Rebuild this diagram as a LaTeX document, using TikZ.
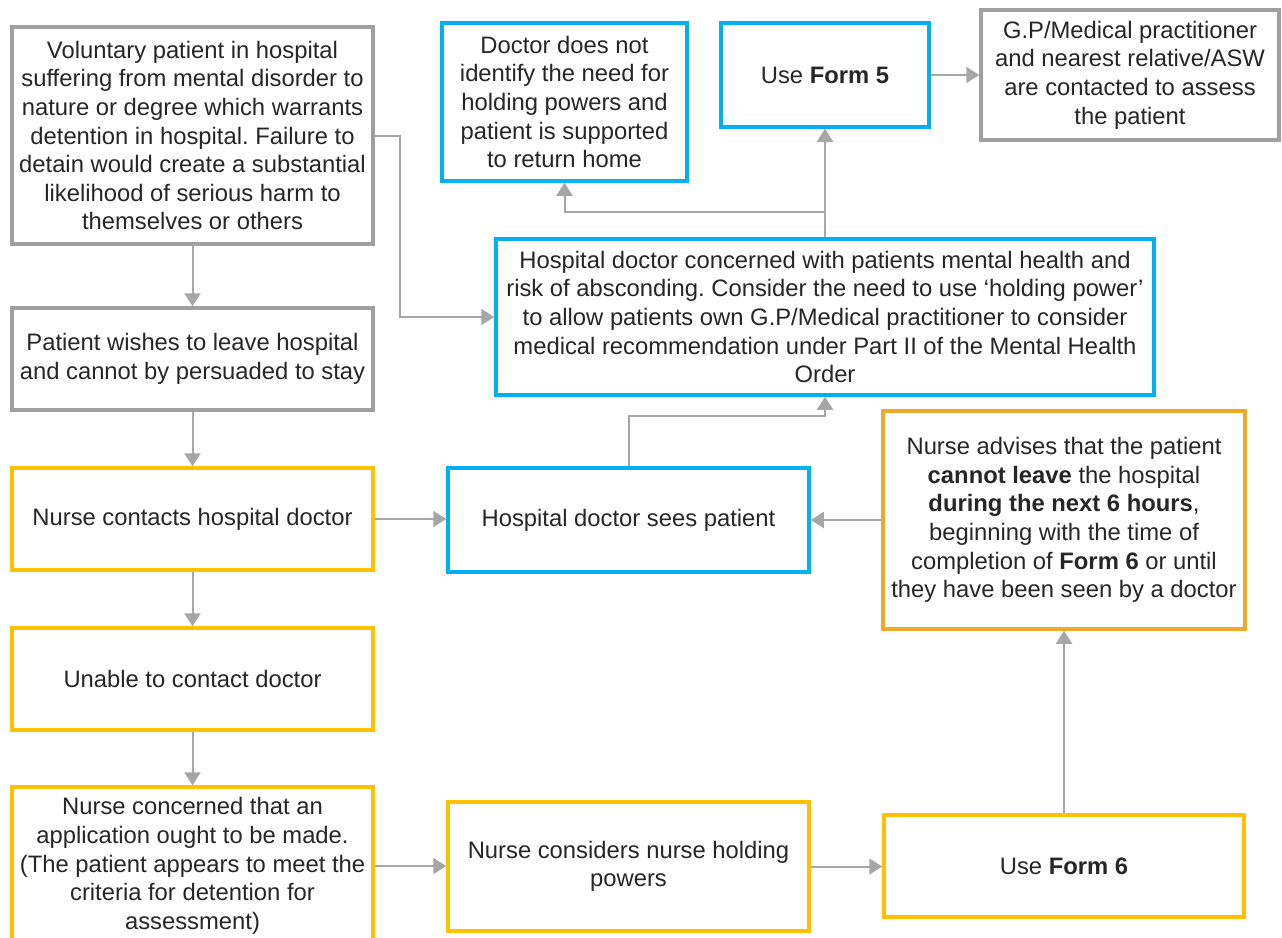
\documentclass[tikz,border=0pt]{standalone}
\usepackage{fontspec}
\setmainfont{Liberation Sans}
\usetikzlibrary{arrows.meta}
\frenchspacing

\definecolor{txt}{RGB}{38,38,38}
\definecolor{edgegray}{RGB}{166,166,166}
\definecolor{framegray}{RGB}{160,160,160}
\definecolor{frameblue}{RGB}{0,176,240}
\definecolor{frameyellow}{RGB}{255,192,0}
\definecolor{frameorange}{RGB}{240,168,40}

\tikzset{
  flowbox/.style={draw, line width=3.5pt, fill=white, align=center, inner sep=0pt,
    text=txt, font=\fontsize{23.8}{28.6}\selectfont},
  graybox/.style={flowbox, draw=framegray},
  bluebox/.style={flowbox, draw=frameblue},
  yellowbox/.style={flowbox, draw=frameyellow},
  orangebox/.style={flowbox, draw=frameorange},
  link/.style={draw=edgegray, line width=2pt, -{Triangle[length=13pt,width=16pt]}},
}

\begin{document}
\begin{tikzpicture}[x=1pt,y=-1pt]
\useasboundingbox[fill=white] (0,0) rectangle (1282,937);
\clip (0,0) rectangle (1282,937);

% left column
\node[graybox, minimum width=361, minimum height=217] (vol) at (192.5,135.5)
  {Voluntary patient in hospital\\suffering from mental disorder to\\nature or degree which warrants\\detention in hospital. Failure to\\detain would create a substantial\\likelihood of serious harm to\\themselves or others};
\node[graybox, minimum width=361, minimum height=102] (wish) at (192.5,359)
  {Patient wishes to leave hospital\\and cannot by persuaded to stay};
\node[yellowbox, minimum width=361, minimum height=102] (contact) at (192.5,519)
  {Nurse contacts hospital doctor};
\node[yellowbox, minimum width=361, minimum height=102] (unable) at (192.5,679)
  {Unable to contact doctor};
\node[yellowbox, minimum width=361, minimum height=158] (nconc) at (192.5,866)
  {Nurse concerned that an\\application ought to be made.\\(The patient appears to meet the\\criteria for detention for\\assessment)};

% top row
\node[bluebox, minimum width=245, minimum height=158] (docno) at (564.5,102)
  {Doctor does not\\identify the need for\\holding powers and\\patient is supported\\to return home};
\node[bluebox, minimum width=208, minimum height=104] (form5) at (825,75)
  {Use \textbf{Form 5}};
\node[graybox, minimum width=298, minimum height=130] (gp) at (1130,75)
  {G.P/Medical practitioner\\and nearest relative/ASW\\are contacted to assess\\the patient};

% middle
\node[bluebox, minimum width=658, minimum height=156] (hconc) at (825,317)
  {Hospital doctor concerned with patients mental health and\\risk of absconding. Consider the need to use ‘holding power’\\to allow patients own G.P/Medical practitioner to consider\\medical recommendation under Part II of the Mental Health\\Order};
\node[bluebox, minimum width=361, minimum height=104] (sees) at (628.5,520)
  {Hospital doctor sees patient};
\node[orangebox, minimum width=362, minimum height=218] (advise) at (1064,520)
  {Nurse advises that the patient\\\textbf{cannot leave} the hospital\\\textbf{during the next 6 hours},\\beginning with the time of\\completion of \textbf{Form 6} or until\\they have been seen by a doctor};

% bottom row
\node[yellowbox, minimum width=361, minimum height=129] (consid) at (628.5,866.5)
  {Nurse considers nurse holding\\powers};
\node[yellowbox, minimum width=360, minimum height=102] (form6) at (1064,866)
  {Use \textbf{Form 6}};

% connectors
\draw[link] (vol) -- (wish);
\draw[link] (wish) -- (contact);
\draw[link] (contact) -- (unable);
\draw[link] (unable) -- (nconc);
\draw[link] (contact.east) -- (contact.east -| sees.west);
\draw[link] (advise.west) -- (advise.west -| sees.east);
\draw[link] (nconc.east) -- (nconc.east -| consid.west);
\draw[link] (consid.east) -- (consid.east -| form6.west);
\draw[link] (form6.north) -- (advise.south);
\draw[link] (form5.east) -- (form5.east -| gp.west);
\draw[link] (vol.east) -- ++(25,0) |- (hconc.west);
\draw[link] (sees.north) -- ++(0,-50) -| (hconc.south);
\draw[link] (hconc.north) -- (form5.south);
\draw[link] (hconc.north) -- ++(0,-25) -| (docno.south);
\end{tikzpicture}
\end{document}
